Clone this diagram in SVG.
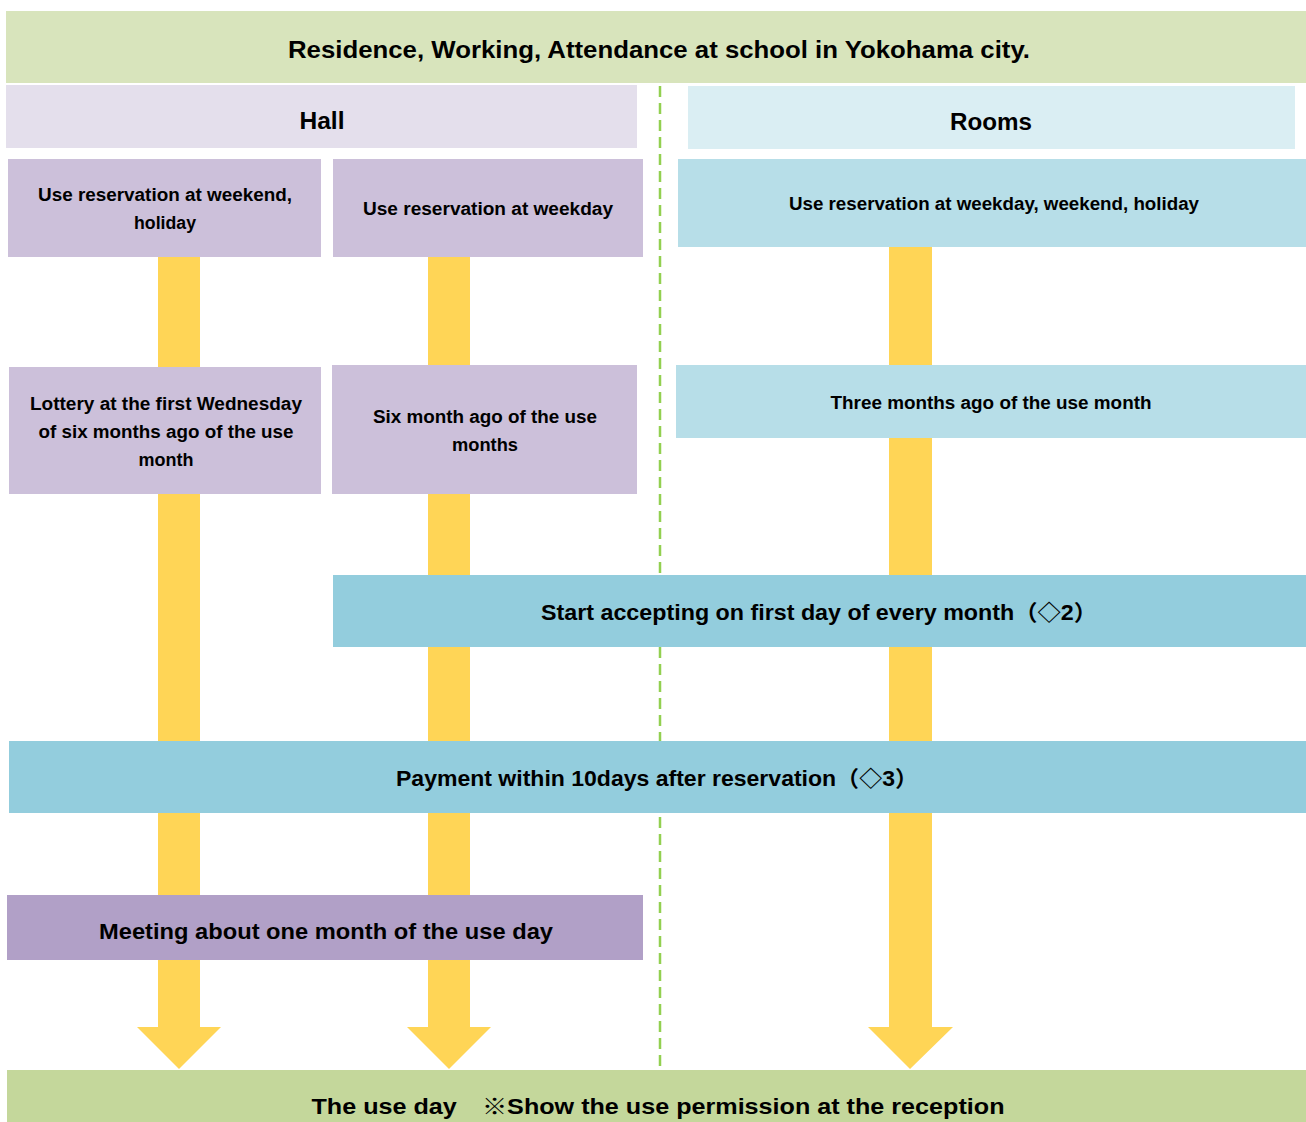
<svg xmlns="http://www.w3.org/2000/svg" width="1306" height="1122" viewBox="0 0 1306 1122">
<style>
text{font-family:"Liberation Sans","Noto Sans CJK JP",sans-serif;fill:#000;text-anchor:middle;font-weight:bold}
.s{font-size:18px}
.m{font-size:22px}
.l{font-size:24px}
.arrow{fill:#ffd556}
</style>
<rect width="1306" height="1122" fill="#fff"/>
<g id="connectors">
<polygon class="arrow" points="158,257 200,257 200,1027 221,1027 179,1069 137,1027 158,1027"/>
<polygon class="arrow" points="428,257 470,257 470,1027 491,1027 449,1069 407,1027 428,1027"/>
<polygon class="arrow" points="889,247 932,247 932,1027 953,1027 910,1069 868,1027 889,1027"/>
<line x1="660" y1="86" x2="660" y2="1070" stroke="#92d050" stroke-width="2.5" stroke-dasharray="11,6"/>
</g>
<g id="title"><rect x="6" y="11" width="1300" height="72" fill="#d8e4bc"/><text class="l" x="659" y="58" textLength="742" lengthAdjust="spacingAndGlyphs">Residence, Working, Attendance at school in Yokohama city.</text></g>
<g id="hall"><rect x="6" y="85" width="631" height="63" fill="#e4dfec"/><text class="l" x="322" y="129" textLength="45" lengthAdjust="spacingAndGlyphs">Hall</text></g>
<g id="rooms"><rect x="688" y="86" width="607" height="63" fill="#daeef3"/><text class="l" x="991" y="130" textLength="82" lengthAdjust="spacingAndGlyphs">Rooms</text></g>
<g id="hall-weekend"><rect x="8" y="159" width="313" height="98" fill="#ccc0da"/><text class="s" x="165" y="201" textLength="254" lengthAdjust="spacingAndGlyphs">Use reservation at weekend,</text><text class="s" x="165" y="229" textLength="62" lengthAdjust="spacingAndGlyphs">holiday</text></g>
<g id="hall-weekday"><rect x="333" y="159" width="310" height="98" fill="#ccc0da"/><text class="s" x="488" y="215" textLength="250" lengthAdjust="spacingAndGlyphs">Use reservation at weekday</text></g>
<g id="rooms-all"><rect x="678" y="159" width="628" height="88" fill="#b7dee8"/><text class="s" x="994" y="210" textLength="410" lengthAdjust="spacingAndGlyphs">Use reservation at weekday, weekend, holiday</text></g>
<g id="lottery"><rect x="9" y="367" width="312" height="127" fill="#ccc0da"/><text class="s" x="166" y="410" textLength="272" lengthAdjust="spacingAndGlyphs">Lottery at the first Wednesday</text><text class="s" x="166" y="438" textLength="255" lengthAdjust="spacingAndGlyphs">of six months ago of the use</text><text class="s" x="166" y="466" textLength="55" lengthAdjust="spacingAndGlyphs">month</text></g>
<g id="six-month"><rect x="332" y="365" width="305" height="129" fill="#ccc0da"/><text class="s" x="485" y="423" textLength="224" lengthAdjust="spacingAndGlyphs">Six month ago of the use</text><text class="s" x="485" y="451" textLength="66" lengthAdjust="spacingAndGlyphs">months</text></g>
<g id="three-months"><rect x="676" y="365" width="630" height="73" fill="#b7dee8"/><text class="s" x="991" y="409" textLength="321" lengthAdjust="spacingAndGlyphs">Three months ago of the use month</text></g>
<g id="start-accepting"><rect x="333" y="575" width="973" height="72" fill="#93cddd"/><text class="m" x="819" y="620" textLength="556" lengthAdjust="spacingAndGlyphs">Start accepting on first day of every month（◇2）</text></g>
<g id="payment"><rect x="9" y="741" width="1297" height="72" fill="#93cddd"/><text class="m" x="657" y="786" textLength="522" lengthAdjust="spacingAndGlyphs">Payment within 10days after reservation（◇3）</text></g>
<g id="meeting"><rect x="7" y="895" width="636" height="65" fill="#b1a0c7"/><text class="m" x="326" y="939" textLength="454" lengthAdjust="spacingAndGlyphs">Meeting about one month of the use day</text></g>
<g id="use-day"><rect x="7" y="1070" width="1299" height="52" fill="#c4d79b"/><text class="m" x="658" y="1114" textLength="693" lengthAdjust="spacingAndGlyphs">The use day　※Show the use permission at the reception</text></g>
</svg>
